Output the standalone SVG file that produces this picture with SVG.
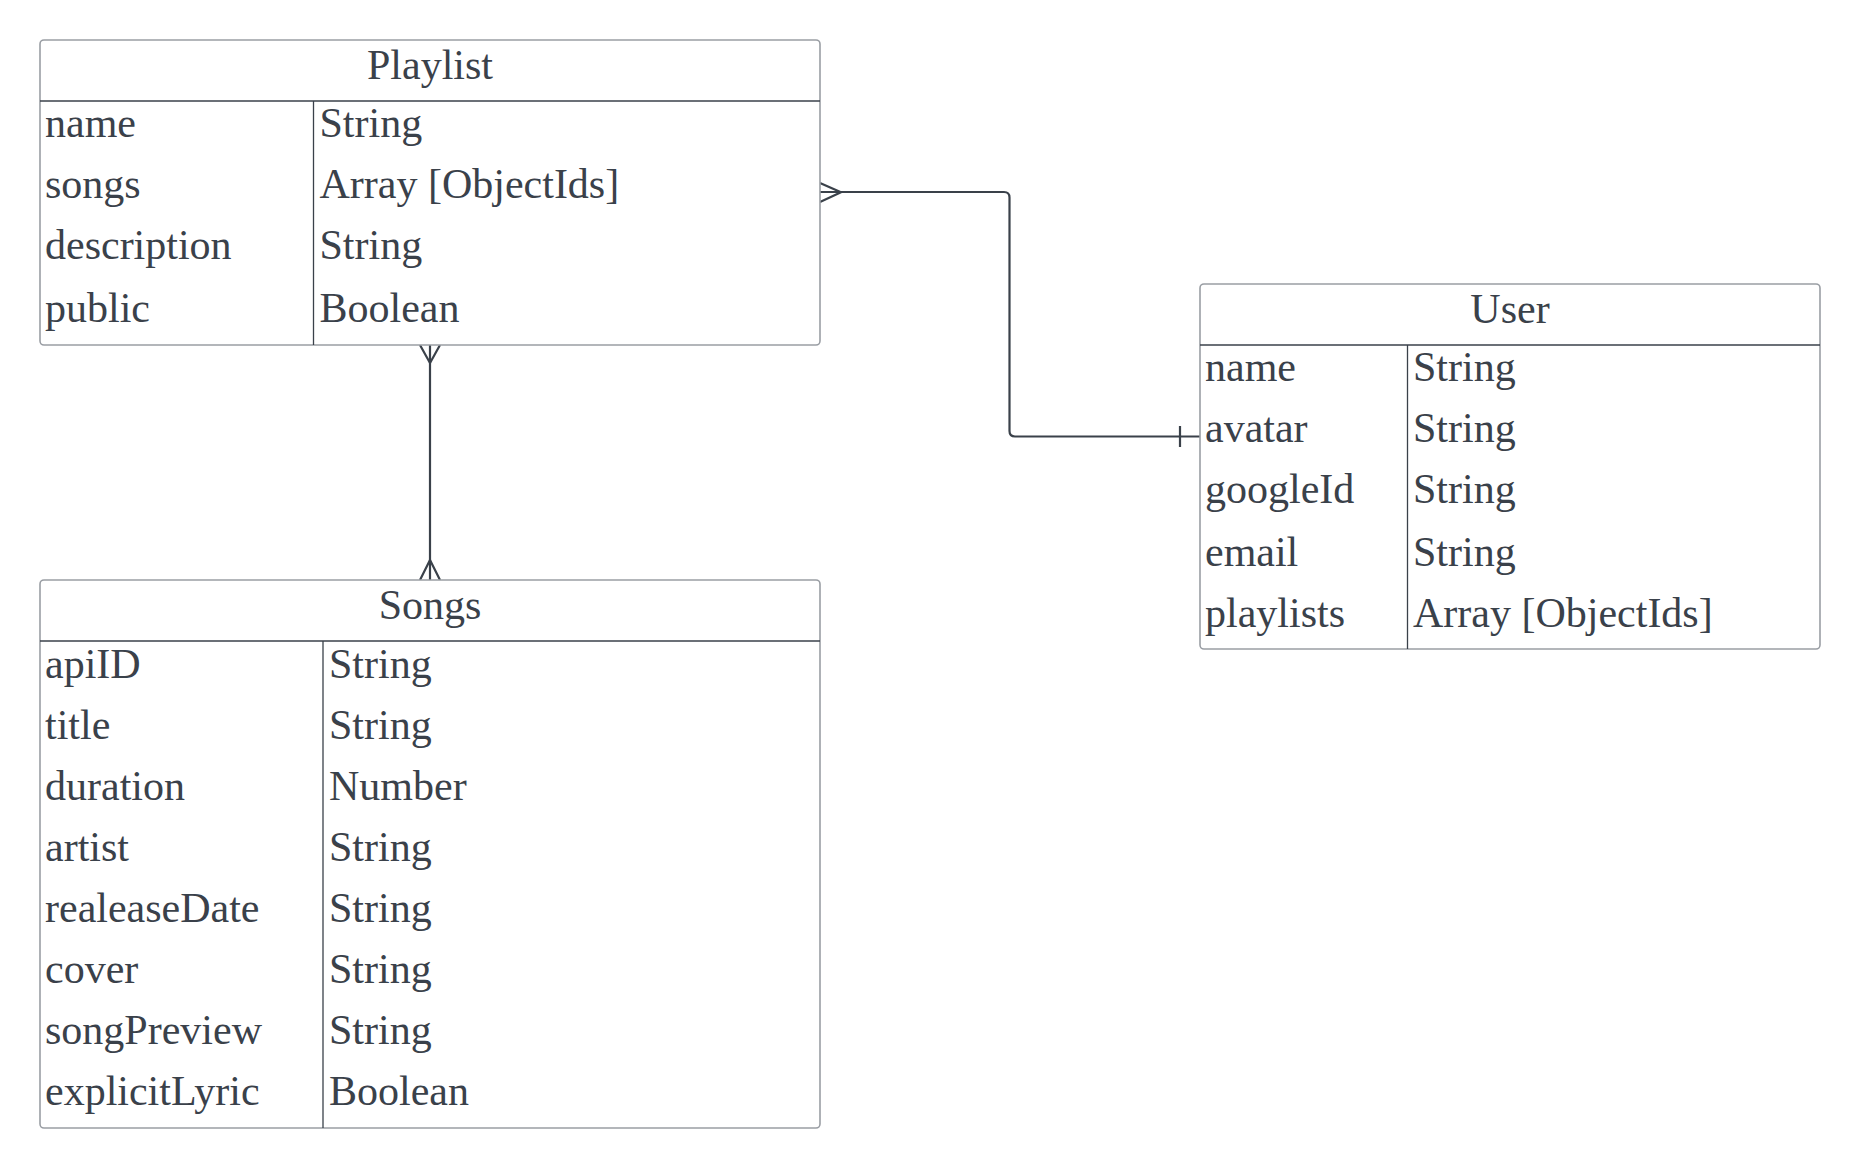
<svg xmlns="http://www.w3.org/2000/svg" width="1860" height="1169" viewBox="0 0 1860 1169">
<style>
.box{fill:#ffffff;stroke:#9a9ea4;stroke-width:1.6}
.sep{stroke:#3a414a;stroke-width:1.3;fill:none}
.t{font-family:"Liberation Serif","Times New Roman",serif;font-size:42px;fill:#3a414a}
.c{text-anchor:middle}
.con{fill:none;stroke:#3a414a;stroke-width:2.2;stroke-linejoin:round}
</style>
<rect width="1860" height="1169" fill="#ffffff"/>
<g id="connectors">
<path class="con" d="M820,192 H1004 Q1009.5,192 1009.5,197.5 V431 Q1009.5,436.5 1015,436.5 H1200"/>
<path class="con" d="M820,183 L841,192.3 L820,202"/>
<line class="con" x1="1180" y1="426" x2="1180" y2="447"/>
<path class="con" d="M430,345 V580"/>
<path class="con" d="M420,345 L430,363 L440,345"/>
<path class="con" d="M420,580 L430,560 L440,580"/>
</g>
<g id="playlist">
<rect class="box" x="40" y="40" width="780" height="305" rx="4"/>
<line class="sep" x1="40" y1="101" x2="820" y2="101"/>
<line class="sep" x1="313.5" y1="101" x2="313.5" y2="345"/>
<text class="t c" x="430" y="78.5">Playlist</text>
<text class="t" x="45" y="136.5">name</text>
<text class="t" x="319.5" y="136.5">String</text>
<text class="t" x="45" y="197.5">songs</text>
<text class="t" x="319.5" y="197.5">Array [ObjectIds]</text>
<text class="t" x="45" y="259">description</text>
<text class="t" x="319.5" y="259">String</text>
<text class="t" x="45" y="321.5">public</text>
<text class="t" x="319.5" y="321.5">Boolean</text>
</g>
<g id="user">
<rect class="box" x="1200" y="284" width="620" height="365" rx="4"/>
<line class="sep" x1="1200" y1="345" x2="1820" y2="345"/>
<line class="sep" x1="1407.5" y1="345" x2="1407.5" y2="649"/>
<text class="t c" x="1510" y="322.5">User</text>
<text class="t" x="1205" y="380.5">name</text>
<text class="t" x="1413" y="380.5">String</text>
<text class="t" x="1205" y="441.5">avatar</text>
<text class="t" x="1413" y="441.5">String</text>
<text class="t" x="1205" y="503">googleId</text>
<text class="t" x="1413" y="503">String</text>
<text class="t" x="1205" y="566">email</text>
<text class="t" x="1413" y="566">String</text>
<text class="t" x="1205" y="627">playlists</text>
<text class="t" x="1413" y="627">Array [ObjectIds]</text>
</g>
<g id="songs">
<rect class="box" x="40" y="580" width="780" height="548" rx="4"/>
<line class="sep" x1="40" y1="641" x2="820" y2="641"/>
<line class="sep" x1="323" y1="641" x2="323" y2="1128"/>
<text class="t c" x="430" y="618.5">Songs</text>
<text class="t" x="45" y="677.5">apiID</text>
<text class="t" x="329" y="677.5">String</text>
<text class="t" x="45" y="738.5">title</text>
<text class="t" x="329" y="738.5">String</text>
<text class="t" x="45" y="799.5">duration</text>
<text class="t" x="329" y="799.5">Number</text>
<text class="t" x="45" y="860.5">artist</text>
<text class="t" x="329" y="860.5">String</text>
<text class="t" x="45" y="921.5">realeaseDate</text>
<text class="t" x="329" y="921.5">String</text>
<text class="t" x="45" y="982.5">cover</text>
<text class="t" x="329" y="982.5">String</text>
<text class="t" x="45" y="1043.5">songPreview</text>
<text class="t" x="329" y="1043.5">String</text>
<text class="t" x="45" y="1104.5">explicitLyric</text>
<text class="t" x="329" y="1104.5">Boolean</text>
</g>
</svg>
